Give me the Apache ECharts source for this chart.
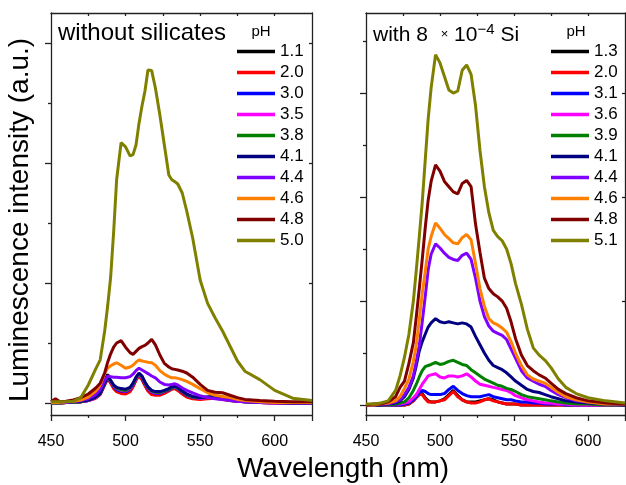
<!DOCTYPE html>
<html>
<head>
<meta charset="utf-8">
<script src="https://cdn.jsdelivr.net/npm/echarts@6/dist/echarts.min.js"></script>
<style>html,body{margin:0;padding:0;background:#fff}#c{width:626px;height:485px}</style>
</head>
<body>
<div id="c"></div>
<script>
// ---------- DATA ----------
const leftLabels = ['1.1','2.0','3.0','3.5','3.8','4.1','4.4','4.6','4.8','5.0'];
const rightLabels = ['1.3','2.0','3.1','3.6','3.9','4.1','4.4','4.6','4.8','5.1'];
const xTickLabels = [450, 500, 550, 600];

const wlLeft = [450,453,456,460,465,470,475,480,483,486,488,490,492,494,497,500,503,505,507,509,511,513,515,517.5,520,523,526,529,531,533,535,538,541,545,550,555,560,565,570,575,580,590,600,612,625];
const L11 = [0.01,0.01,0,0.01,0.01,0.02,0.04,0.09,0.16,0.36,0.48,0.36,0.26,0.2,0.17,0.16,0.2,0.28,0.39,0.47,0.4,0.3,0.21,0.15,0.14,0.14,0.17,0.21,0.24,0.25,0.22,0.16,0.11,0.08,0.07,0.08,0.09,0.07,0.04,0.03,0.02,0.01,0,0,0];
const L20 = [0,0,0,0.01,0.01,0.02,0.04,0.08,0.14,0.3,0.4,0.33,0.24,0.19,0.16,0.15,0.19,0.27,0.38,0.45,0.39,0.29,0.2,0.14,0.13,0.13,0.16,0.2,0.23,0.24,0.21,0.15,0.1,0.07,0.06,0.07,0.08,0.06,0.04,0.03,0.02,0.01,0,0,0];
const L30 = [0,0,0,0.01,0.01,0.02,0.04,0.09,0.15,0.32,0.42,0.35,0.27,0.22,0.2,0.19,0.23,0.3,0.41,0.48,0.42,0.32,0.24,0.18,0.16,0.16,0.19,0.22,0.25,0.26,0.24,0.18,0.13,0.09,0.08,0.09,0.1,0.08,0.05,0.03,0.02,0.01,0,0,0];
const L35 = [0,0.01,0,0.01,0.01,0.02,0.04,0.09,0.16,0.33,0.43,0.36,0.28,0.24,0.21,0.2,0.24,0.31,0.41,0.48,0.43,0.33,0.25,0.19,0.17,0.17,0.2,0.23,0.26,0.27,0.25,0.19,0.14,0.1,0.08,0.09,0.1,0.08,0.05,0.03,0.02,0.01,0,0,0];
const L38 = [0,0,0,0.01,0.01,0.02,0.05,0.1,0.16,0.33,0.43,0.37,0.29,0.25,0.22,0.21,0.25,0.32,0.42,0.49,0.44,0.34,0.26,0.2,0.18,0.18,0.2,0.23,0.26,0.27,0.25,0.19,0.14,0.1,0.09,0.1,0.11,0.08,0.05,0.04,0.02,0.01,0.01,0,0];
const L41 = [0.01,0.01,0.01,0.01,0.02,0.03,0.05,0.1,0.17,0.34,0.44,0.38,0.3,0.26,0.24,0.23,0.26,0.33,0.43,0.5,0.45,0.35,0.27,0.21,0.19,0.19,0.21,0.24,0.27,0.28,0.26,0.2,0.15,0.11,0.09,0.1,0.11,0.09,0.06,0.04,0.03,0.01,0.01,0,0];
const L44 = [0.01,0.01,0.01,0.01,0.02,0.04,0.07,0.14,0.22,0.38,0.45,0.44,0.43,0.43,0.42,0.42,0.44,0.48,0.54,0.58,0.55,0.52,0.49,0.45,0.42,0.35,0.31,0.3,0.31,0.32,0.3,0.25,0.21,0.17,0.12,0.09,0.07,0.06,0.04,0.03,0.02,0.01,0.01,0,0];
const L46 = [0.01,0.01,0.01,0.02,0.03,0.05,0.1,0.2,0.3,0.5,0.58,0.62,0.65,0.67,0.63,0.58,0.6,0.63,0.68,0.72,0.7,0.69,0.68,0.67,0.63,0.54,0.48,0.44,0.42,0.42,0.41,0.39,0.36,0.31,0.24,0.17,0.13,0.11,0.09,0.06,0.04,0.02,0.01,0.01,0.01];
const L48 = [0.02,0.07,0.02,0.03,0.05,0.09,0.15,0.25,0.33,0.5,0.68,0.82,0.93,1.0,1.04,0.93,0.84,0.81,0.86,0.91,0.94,0.96,1.0,1.06,0.97,0.8,0.66,0.6,0.57,0.56,0.55,0.53,0.5,0.43,0.31,0.21,0.18,0.17,0.13,0.09,0.06,0.04,0.03,0.02,0.02];
const L50 = [0.02,0.02,0.02,0.02,0.03,0.09,0.3,0.57,0.72,1.2,1.62,2.1,2.85,3.72,4.34,4.27,4.12,4.14,4.3,4.66,4.95,5.2,5.55,5.54,5.25,4.8,4.3,3.8,3.72,3.69,3.65,3.5,3.2,2.75,2.05,1.66,1.42,1.2,0.95,0.7,0.53,0.39,0.21,0.08,0.04];

const wlRight = [450,455,460,465,470,473,476,479,482,484,486,488,490,492,494,497,500,503,506,509,512,515,518,521,524,527,530,533,536,539,542,545,548,551,555,559,563,567,571,575,580,585,592,600,612,625];
const R13 = [0,0,0,0,0,0,0,0.01,0.04,0.08,0.11,0.11,0.07,0.04,0.03,0.03,0.04,0.06,0.1,0.14,0.09,0.05,0.03,0.03,0.03,0.04,0.05,0.06,0.05,0.03,0.02,0.01,0.01,0.01,0,0,0,0,0,0,0,0,0,0,0,0];
const R20 = [0,0,0,0,0,0,0,0.01,0.04,0.07,0.1,0.1,0.06,0.03,0.03,0.03,0.04,0.05,0.09,0.13,0.08,0.05,0.03,0.02,0.02,0.03,0.05,0.06,0.04,0.03,0.02,0.01,0.01,0.01,0,0,0,0,0,0,0,0,0,0,0,0];
const R31 = [0,0,0,0,0,0,0.01,0.02,0.05,0.08,0.12,0.14,0.13,0.11,0.1,0.1,0.1,0.11,0.15,0.18,0.14,0.11,0.09,0.08,0.08,0.08,0.09,0.1,0.08,0.07,0.06,0.05,0.05,0.04,0.03,0.03,0.02,0.02,0.01,0.01,0.01,0,0,0,0,0];
const R36 = [0,0,0,0,0.01,0.01,0.02,0.03,0.07,0.1,0.15,0.2,0.24,0.28,0.29,0.3,0.27,0.26,0.28,0.28,0.27,0.28,0.3,0.27,0.23,0.2,0.19,0.18,0.17,0.16,0.15,0.14,0.12,0.09,0.07,0.05,0.04,0.03,0.02,0.02,0.01,0.01,0,0,0,0];
const R39 = [0,0,0,0,0.01,0.02,0.03,0.07,0.14,0.2,0.27,0.33,0.37,0.38,0.39,0.41,0.39,0.4,0.42,0.43,0.41,0.39,0.38,0.34,0.31,0.28,0.25,0.23,0.21,0.19,0.18,0.16,0.15,0.13,0.1,0.08,0.07,0.06,0.05,0.04,0.03,0.02,0.01,0.01,0,0];
const R41 = [0,0,0,0.01,0.02,0.04,0.08,0.15,0.26,0.38,0.52,0.61,0.68,0.75,0.79,0.83,0.8,0.79,0.8,0.79,0.78,0.79,0.78,0.75,0.66,0.58,0.5,0.43,0.38,0.36,0.34,0.31,0.27,0.23,0.19,0.15,0.13,0.12,0.1,0.08,0.06,0.04,0.03,0.02,0.01,0];
const R44 = [0,0,0.01,0.01,0.03,0.05,0.1,0.17,0.28,0.42,0.57,0.8,1.04,1.3,1.45,1.55,1.51,1.46,1.42,1.4,1.39,1.44,1.46,1.4,1.22,1.0,0.85,0.76,0.71,0.69,0.67,0.63,0.54,0.45,0.33,0.26,0.23,0.2,0.18,0.14,0.1,0.07,0.04,0.03,0.01,0.01];
const R46 = [0,0,0.01,0.02,0.04,0.08,0.16,0.25,0.42,0.58,0.82,1.07,1.28,1.5,1.62,1.75,1.7,1.64,1.6,1.56,1.55,1.61,1.64,1.59,1.36,1.12,0.95,0.83,0.79,0.77,0.74,0.7,0.61,0.5,0.38,0.29,0.25,0.23,0.21,0.17,0.12,0.08,0.05,0.03,0.01,0.01];
const R48 = [0,0.01,0.01,0.03,0.08,0.17,0.23,0.4,0.6,0.85,1.12,1.4,1.7,1.97,2.15,2.31,2.25,2.15,2.1,2.05,2.03,2.13,2.16,2.1,1.74,1.47,1.22,1.12,1.07,1.04,1.0,0.93,0.8,0.64,0.48,0.38,0.33,0.29,0.26,0.21,0.15,0.11,0.07,0.04,0.02,0.01];
const R51 = [0.01,0.01,0.02,0.04,0.14,0.28,0.46,0.68,1.0,1.3,1.62,1.95,2.35,2.75,3.05,3.37,3.29,3.16,3.03,3.0,3.02,3.22,3.27,3.18,2.88,2.45,2.1,1.85,1.68,1.62,1.58,1.5,1.36,1.17,0.97,0.73,0.55,0.48,0.43,0.36,0.25,0.17,0.11,0.07,0.04,0.02];

const leftSeries = [L11, L20, L30, L35, L38, L41, L44, L46, L48, L50];
const rightSeries = [R13, R20, R31, R36, R39, R41, R44, R46, R48, R51];
const colors = ['#000000','#ff0000','#0000ff','#ff00ff','#008000','#000080','#8000ff','#ff8000','#800000','#808000'];

// ---------- CHART ----------
const FONT = 'Arial, "Liberation Sans", sans-serif';
const AX = {color:'#222', width:1.3};
const chart = echarts.init(document.getElementById('c'), null, {renderer:'canvas'});

function xAxes(grid){
  return [
    {gridIndex:grid, type:'value', min:450, max:625, position:'bottom',
     axisLine:{show:true, onZero:false, lineStyle:AX},
     axisTick:{show:true, inside:false, length:6, lineStyle:AX, customValues:[450,500,550,600,625]},
     axisLabel:{show:true, customValues:xTickLabels, margin:19, fontSize:16, color:'#000', fontFamily:FONT},
     splitLine:{show:false}},
    {gridIndex:grid, type:'value', min:450, max:625, position:'bottom',
     axisLine:{show:false, onZero:false},
     axisTick:{show:true, inside:false, length:3, lineStyle:AX, customValues:[475,525,575]},
     axisLabel:{show:false}, splitLine:{show:false}},
    {gridIndex:grid, type:'value', min:450, max:625, position:'top',
     axisLine:{show:true, onZero:false, lineStyle:AX},
     axisTick:{show:true, inside:true, length:3, lineStyle:AX, customValues:[475,500,525,550,575,600]},
     axisLabel:{show:false}, splitLine:{show:false}}
  ];
}
function yAxes(grid, min, max, major, minor){
  return [
    {gridIndex:grid, type:'value', min:min, max:max, position:'left',
     axisLine:{show:true, onZero:false, lineStyle:AX},
     axisTick:{show:true, inside:false, length:6, lineStyle:AX, customValues:major},
     axisLabel:{show:false}, splitLine:{show:false}},
    {gridIndex:grid, type:'value', min:min, max:max, position:'left',
     axisLine:{show:false, onZero:false},
     axisTick:{show:true, inside:false, length:3, lineStyle:AX, customValues:minor},
     axisLabel:{show:false}, splitLine:{show:false}},
    {gridIndex:grid, type:'value', min:min, max:max, position:'right',
     axisLine:{show:true, onZero:false, lineStyle:AX},
     axisTick:{show:true, inside:true, length:3, lineStyle:AX, customValues:major},
     axisLabel:{show:false}, splitLine:{show:false}}
  ];
}

const series = [];
leftSeries.forEach((vals, i) => {
  series.push({type:'line', name:leftLabels[i], xAxisIndex:0, yAxisIndex:0,
    data: wlLeft.map((w, k) => [w, vals[k]]), showSymbol:false, symbol:'none',
    color:colors[i], lineStyle:{width:3, color:colors[i]}, z:2+i});
});
rightSeries.forEach((vals, i) => {
  series.push({type:'line', name:rightLabels[i], xAxisIndex:3, yAxisIndex:3,
    data: wlRight.map((w, k) => [w, vals[k]]), showSymbol:false, symbol:'none',
    color:colors[i], lineStyle:{width:3, color:colors[i]}, z:2+i});
});

const legendBase = {orient:'vertical', top:43, itemWidth:38, itemHeight:3.5, icon:'rect', itemGap:4,
  padding:0, selectedMode:false, textStyle:{fontSize:17, color:'#000', lineHeight:17, fontFamily:FONT}};

const option = {
  animation:false,
  backgroundColor:'#fff',
  grid:[
    {left:51, top:13, width:261, height:402, outerBoundsMode:'none'},
    {left:366, top:13, width:259, height:402, outerBoundsMode:'none'}
  ],
  xAxis: xAxes(0).concat(xAxes(1)),
  yAxis: yAxes(0, -0.2, 6.5, [0,2,4,6], [1,3,5]).concat(yAxes(1, -0.096, 3.77, [0,1,2,3], [0.5,1.5,2.5,3.5])),
  legend:[
    Object.assign({}, legendBase, {left:237, data:leftLabels}),
    Object.assign({}, legendBase, {left:551, data:rightLabels})
  ],
  graphic:[
    {type:'text', x:20, y:220, rotation:Math.PI/2,
     style:{text:'Luminescence intensity (a.u.)', fontSize:28, fontFamily:FONT, fill:'#000', align:'center', verticalAlign:'middle'}},
    {type:'text', x:343, y:469,
     style:{text:'Wavelength (nm)', fontSize:28, fontFamily:FONT, fill:'#000', align:'center', verticalAlign:'middle'}},
    {type:'text', x:58, y:33,
     style:{text:'without silicates', fontSize:24, fontFamily:FONT, fill:'#000', align:'left', verticalAlign:'middle'}},
    {type:'text', x:373, y:34,
     style:{text:'{a|with 8 }{b|×}{a| 10}{c|−4}{a| Si}', fill:'#000', align:'left', verticalAlign:'middle',
       rich:{a:{fontSize:21, fontFamily:FONT, lineHeight:24, verticalAlign:'bottom'},
             b:{fontSize:13, fontFamily:FONT, verticalAlign:'top', padding:[6,0,0,7]},
             c:{fontSize:15, fontFamily:FONT, verticalAlign:'top'}}}},
    {type:'text', x:261, y:32, style:{text:'pH', fontSize:15, fontFamily:FONT, fill:'#000', align:'center', verticalAlign:'middle'}},
    {type:'text', x:576, y:32, style:{text:'pH', fontSize:15, fontFamily:FONT, fill:'#000', align:'center', verticalAlign:'middle'}}
  ],
  series: series
};
chart.setOption(option);
</script>
</body>
</html>
